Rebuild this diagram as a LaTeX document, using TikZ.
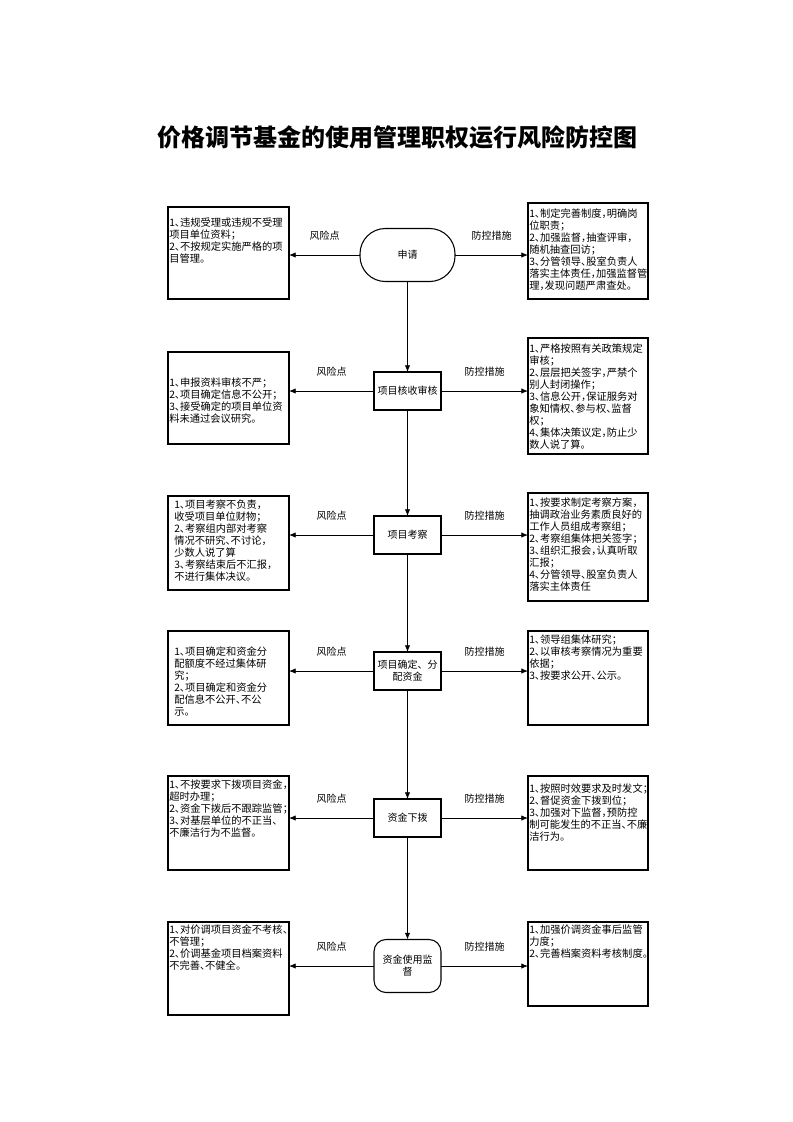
\documentclass[tikz,border=0pt]{standalone}
\usepackage{fontspec}
\setmainfont{Noto Sans CJK SC}
\newfontfamily\boxfont[RawFeature=+halt]{Noto Sans CJK SC}
\usetikzlibrary{arrows.meta,positioning}

\begin{document}
\begin{tikzpicture}[x=0.75pt,y=-0.75pt,
  box/.style={draw, line width=0.8pt, minimum width=90.75pt, inner sep=0pt, outer sep=0pt},
  txt/.style={anchor=north west, inner sep=0pt, align=left, font=\boxfont\fontsize{7.7}{9}\selectfont},
  stepnode/.style={draw, line width=0.8pt, minimum width=50.25pt, minimum height=28.5pt,
    align=center, inner sep=1pt, outer sep=0pt, font=\fontsize{7.5}{9}\selectfont},
  lbl/.style={midway, above=10.5pt, inner sep=0pt, font=\fontsize{7.5}{9}\selectfont},
  arr/.style={line width=0.6pt, -{Latex[length=5pt,width=4pt]}}]

  \useasboundingbox (0,0) rectangle (793,1122);

  %Title
  \node[font=\bfseries\fontsize{18}{20}\selectfont] (title) at (397,137)
    {价格调节基金的使用管理职权运行风险防控图};

  %Define nodes
  \node[stepnode, minimum width=71.25pt, minimum height=39.75pt, rounded corners=19pt] (n1) at (407.5,255) {申请};
  \node[stepnode] (n2) at (407.5,391) {项目核收审核};
  \node[stepnode] (n3) at (407.5,535) {项目考察};
  \node[stepnode] (n4) at (407.5,671) {项目确定、分\\配资金};
  \node[stepnode] (n5) at (407.5,818) {资金下拨};
  \node[stepnode, minimum height=39.75pt, rounded corners=9pt] (n6) at (407.5,966) {资金使用监\\督};

  % Risk and control boxes
  \node[box, minimum height=69pt] (l1) at (228.5,253) {};
  \node[box, minimum width=90pt, minimum height=72pt] (r1) at (588,251) {};
  \node[box, minimum height=69pt] (l2) at (228.5,398) {};
  \node[box, minimum width=90pt, minimum height=87pt] (r2) at (588,396) {};
  \node[box, minimum height=70.5pt] (l3) at (228.5,543) {};
  \node[box, minimum width=90pt, minimum height=81pt] (r3) at (588,547) {};
  \node[box, minimum height=70.5pt] (l4) at (228.5,678) {};
  \node[box, minimum width=90pt, minimum height=70.5pt] (r4) at (588,678) {};
  \node[box, minimum height=70.5pt] (l5) at (228.5,823) {};
  \node[box, minimum width=90pt, minimum height=70.5pt] (r5) at (588,823) {};
  \node[box, minimum height=69.75pt] (l6) at (228.5,968.5) {};
  \node[box, minimum width=90pt, minimum height=63pt] (r6) at (588,964) {};

  % Box texts
  \node[txt] at ([shift={(1,11)}]l1.north west) {1、违规受理或违规不受理\\项目单位资料；\\2、不按规定实施严格的项\\目管理。};
  \node[txt] at ([shift={(1,6)}]r1.north west) {1、制定完善制度，明确岗\\位职责；\\2、加强监督，抽查评审，\\随机抽查回访；\\3、分管领导、股室负责人\\落实主体责任，加强监督管\\理，发现问题严肃查处。};
  \node[txt] at ([shift={(1,26)}]l2.north west) {1、申报资料审核不严；\\2、项目确定信息不公开；\\3、接受确定的项目单位资\\料未通过会议研究。};
  \node[txt] at ([shift={(1,6)}]r2.north west) {1、严格按照有关政策规定\\审核；\\2、层层把关签字，严禁个\\别人封闭操作；\\3、信息公开，保证服务对\\象知情权、参与权、监督\\权；\\4、集体决策议定，防止少\\数人说了算。};
  \node[txt] at ([shift={(6,4)}]l3.north west) {1、项目考察不负责，\\收受项目单位财物；\\2、考察组内部对考察\\情况不研究、不讨论，\\少数人说了算\\3、考察结束后不汇报，\\不进行集体决议。};
  \node[txt] at ([shift={(1,5)}]r3.north west) {1、按要求制定考察方案，\\抽调政治业务素质良好的\\工作人员组成考察组；\\2、考察组集体把关签字；\\3、组织汇报会，认真听取\\汇报；\\4、分管领导、股室负责人\\落实主体责任};
  \node[txt] at ([shift={(6,16)}]l4.north west) {1、项目确定和资金分\\配额度不经过集体研\\究；\\2、项目确定和资金分\\配信息不公开、不公\\示。};
  \node[txt] at ([shift={(1,4)}]r4.north west) {1、领导组集体研究；\\2、以审核考察情况为重要\\依据；\\3、按要求公开、公示。};
  \node[txt] at ([shift={(1,4)}]l5.north west) {1、不按要求下拨项目资金，\\超时办理；\\2、资金下拨后不跟踪监管；\\3、对基层单位的不正当、\\不廉洁行为不监督。};
  \node[txt] at ([shift={(1,8)}]r5.north west) {1、按照时效要求及时发文；\\2、督促资金下拨到位；\\3、加强对下监督，预防控\\制可能发生的不正当、不廉\\洁行为。};
  \node[txt] at ([shift={(1,3)}]l6.north west) {1、对价调项目资金不考核、\\不管理；\\2、价调基金项目档案资料\\不完善、不健全。};
  \node[txt] at ([shift={(1,3)}]r6.north west) {1、加强价调资金事后监管\\力度；\\2、完善档案资料考核制度。};

  % Connect the nodes
  \foreach \a/\b in {n1/n2,n2/n3,n3/n4,n4/n5,n5/n6}
    \draw[arr] (\a.south) -- (\b.north);
  \foreach \i in {1,...,6} {
    \draw[arr] (n\i.west) -- node[lbl]{风险点} (n\i.west -| l\i.east);
    \draw[arr] (n\i.east) -- node[lbl]{防控措施} (n\i.east -| r\i.west);
  }

\end{tikzpicture}
\end{document}
